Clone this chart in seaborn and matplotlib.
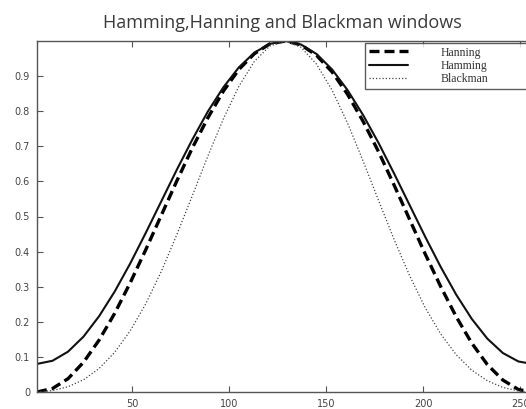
import matplotlib
matplotlib.use("Agg")
import matplotlib.pyplot as plt
import seaborn as sns
import pandas as pd

# sample index (x) and window values
x = [1, 9, 17, 25, 33, 41, 49, 57, 65, 73, 81, 89, 97, 105, 113, 121, 129,
     137, 145, 153, 161, 169, 177, 185, 193, 201, 209, 217, 225, 233, 241, 249, 256]
hanning = [0, 0.010, 0.038, 0.085, 0.148, 0.224, 0.311, 0.405, 0.503, 0.601, 0.695,
           0.781, 0.857, 0.919, 0.964, 0.992, 1.000, 0.989, 0.959, 0.912, 0.848,
           0.771, 0.684, 0.589, 0.491, 0.393, 0.300, 0.214, 0.139, 0.078, 0.034, 0.007, 0]
hamming = [0.080, 0.089, 0.115, 0.158, 0.216, 0.286, 0.366, 0.453, 0.543, 0.633, 0.719,
           0.799, 0.868, 0.925, 0.967, 0.992, 1.000, 0.990, 0.963, 0.919, 0.860,
           0.789, 0.709, 0.622, 0.532, 0.442, 0.356, 0.277, 0.208, 0.152, 0.111, 0.087, 0.080]
blackman = [0, 0.004, 0.015, 0.035, 0.067, 0.113, 0.174, 0.251, 0.343, 0.448, 0.559,
            0.672, 0.778, 0.871, 0.942, 0.986, 1.000, 0.982, 0.934, 0.860, 0.766,
            0.658, 0.545, 0.434, 0.331, 0.240, 0.165, 0.106, 0.062, 0.032, 0.013, 0.003, 0]

series_names = ["Hanning", "Hamming", "Blackman"]
xticks = [50, 100, 150, 200, 250]
yticks = [0, 0.1, 0.2, 0.3, 0.4, 0.5, 0.6, 0.7, 0.8, 0.9]
ytick_labels = ["0", "0.1", "0.2", "0.3", "0.4", "0.5", "0.6", "0.7", "0.8", "0.9"]
title = "Hamming,Hanning and Blackman windows"

df = pd.DataFrame({"x": x, "Hanning": hanning, "Hamming": hamming, "Blackman": blackman})

sns.set_theme(style="white")
plt.rcParams["font.family"] = ["DejaVu Sans"]

W, H = 526, 409
fig = plt.figure(figsize=(W / 100, H / 100), dpi=100)
ax = fig.add_axes([37 / W, 1 - 392 / H, (532 - 37) / W, (392 - 41) / H])

styles = {
    "Hanning": dict(color="black", linewidth=2.4, linestyle=(0, (3.0, 1.5))),
    "Hamming": dict(color="#111111", linewidth=1.5, linestyle="-"),
    "Blackman": dict(color="#444444", linewidth=0.9, linestyle=(0, (1, 1.6))),
}
for name in series_names:
    sns.lineplot(data=df, x="x", y=name, ax=ax, label=name, **styles[name])

ax.set_xlim(1, 256)
ax.set_ylim(0, 1)
ax.set_xticks(xticks)
ax.set_xticklabels([str(t) for t in xticks])
ax.set_yticks(yticks)
ax.set_yticklabels(ytick_labels)
ax.set_xlabel("")
ax.set_ylabel("")
ax.tick_params(direction="in", length=4, width=0.8, colors="#555555",
               labelsize=7, labelcolor="#444444", top=True, right=True,
               bottom=True, left=True, pad=5)
for s in ax.spines.values():
    s.set_color("#555555")
    s.set_linewidth(1.0)

fig.text(282 / W, 1 - 23 / H, title, ha="center", va="center",
         fontsize=13, color="#3a3a3a", family=["Open Sans", "DejaVu Sans"])

leg = ax.legend(loc="upper left",
                bbox_to_anchor=(365 / W, 1 - 88 / H, (545 - 365) / W, 45 / H),
                bbox_transform=fig.transFigure, borderaxespad=0, mode="expand",
                fancybox=False, frameon=True, handlelength=3.3,
                handletextpad=2.8, labelspacing=0.12, borderpad=0.3,
                prop={"family": ["Liberation Serif"], "size": 8.5})
leg.get_frame().set_edgecolor("#333333")
leg.get_frame().set_linewidth(1.0)
for t in leg.get_texts():
    t.set_color("#333333")

fig.savefig("out.png", dpi=100)
